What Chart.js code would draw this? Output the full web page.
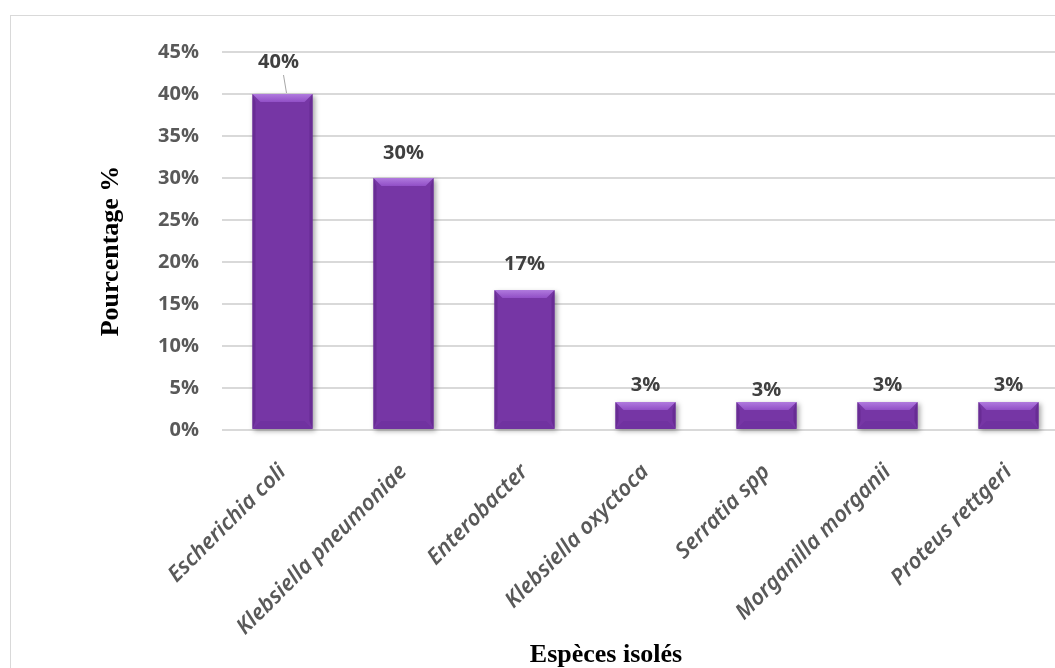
<!DOCTYPE html>
<html>
<head>
<meta charset="utf-8">
<script src="https://cdn.jsdelivr.net/npm/chart.js@4/dist/chart.umd.min.js"></script>
<style>
  html, body { margin: 0; padding: 0; background: #fff; overflow: hidden; }
  #wrap { position: absolute; left: 0; top: 0; width: 1069px; height: 690px; }
</style>
</head>
<body>
<div id="wrap"><canvas id="chart" width="1069" height="690"></canvas></div>
<script>
const categories = [
  "Escherichia coli",
  "Klebsiella pneumoniae",
  "Enterobacter",
  "Klebsiella oxyctoca",
  "Serratia spp",
  "Morganilla morganii",
  "Proteus rettgeri"
];
const percentages = [40, 30, 16.67, 3.33, 3.33, 3.33, 3.33];
const yMin = 0, yMax = 45, yStep = 5;
const yTitle = "Pourcentage %";
const xTitle = "Espèces isolés";

// how far above each bar its label sits (the first one has a leader line)
const labelLift = [32, 25, 26, 17, 12, 17, 17];

const $ = (id) => document.getElementById(id);

const frame = {
  id: "frame",
  beforeDraw(chart) {
    const ctx = chart.ctx;
    ctx.save();
    ctx.strokeStyle = "#d9d9d9";
    ctx.lineWidth = 1;
    ctx.strokeRect(10.5, 15.5, 2000, 2000);
    ctx.restore();
  }
};

const shadow = {
  id: "shadow",
  beforeDatasetsDraw(chart) {
    const ctx = chart.ctx;
    ctx.save();
    ctx.shadowColor = "rgba(0,0,0,0.35)";
    ctx.shadowBlur = 5;
    ctx.shadowOffsetX = 2;
    ctx.shadowOffsetY = 2;
  },
  afterDatasetsDraw(chart) {
    chart.ctx.restore();
  }
};

// bevel on each bar, drawn from the bar elements
const bevel = {
  id: "bevel",
  afterDatasetsDraw(chart) {
    const ctx = chart.ctx;
    chart.getDatasetMeta(0).data.forEach(bar => {
      const l = bar.x - bar.width / 2, r = bar.x + bar.width / 2;
      const t = bar.y, b = bar.base;
      const s = Math.min(8, (b - t) / 3);
      ctx.save();
      // top
      const g = ctx.createLinearGradient(0, t, 0, t + s);
      g.addColorStop(0, "#b07ade");
      g.addColorStop(1, "#914fc6");
      ctx.fillStyle = g;
      ctx.beginPath();
      ctx.moveTo(l, t); ctx.lineTo(r, t); ctx.lineTo(r - s, t + s); ctx.lineTo(l + s, t + s);
      ctx.closePath(); ctx.fill();
      // bottom
      ctx.fillStyle = "#7032a0";
      ctx.beginPath();
      ctx.moveTo(l, b); ctx.lineTo(r, b); ctx.lineTo(r - s, b - s); ctx.lineTo(l + s, b - s);
      ctx.closePath(); ctx.fill();
      // sides
      ctx.fillStyle = "#682c94";
      ctx.beginPath();
      ctx.moveTo(l, t); ctx.lineTo(l + 3, t + s); ctx.lineTo(l + 3, b - s); ctx.lineTo(l, b);
      ctx.closePath(); ctx.fill();
      ctx.beginPath();
      ctx.moveTo(r, t); ctx.lineTo(r - 3, t + s); ctx.lineTo(r - 3, b - s); ctx.lineTo(r, b);
      ctx.closePath(); ctx.fill();
      ctx.restore();
    });
  }
};

const valueLabels = {
  id: "valueLabels",
  afterDatasetsDraw(chart) {
    const ctx = chart.ctx;
    ctx.save();
    ctx.font = 'bold 20px "Open Sans"';
    ctx.fillStyle = "#404040";
    ctx.textAlign = "center";
    ctx.textBaseline = "middle";
    chart.getDatasetMeta(0).data.forEach((bar, i) => {
      const y = bar.y - labelLift[i];
      ctx.fillText(Math.round(percentages[i]) + "%", bar.x - (i === 0 ? 4 : 0), y);
      if (i === 0) {
        ctx.strokeStyle = "#a6a6a6";
        ctx.lineWidth = 1;
        ctx.beginPath();
        ctx.moveTo(bar.x + 1, y + 13);
        ctx.lineTo(bar.x + 4, bar.y - 1);
        ctx.stroke();
      }
    });
    ctx.restore();
  }
};

const axisTitles = {
  id: "axisTitles",
  afterDraw(chart) {
    const ctx = chart.ctx;
    ctx.save();
    ctx.fillStyle = "#000";
    ctx.font = 'bold 26px "Liberation Serif"';
    ctx.textAlign = "center";
    ctx.textBaseline = "middle";
    ctx.translate(111, 251);
    ctx.rotate(-Math.PI / 2);
    ctx.fillText(yTitle, 0, 0);
    ctx.restore();
    ctx.save();
    ctx.fillStyle = "#000";
    ctx.font = 'bold 26px "Liberation Serif"';
    ctx.textAlign = "center";
    ctx.textBaseline = "alphabetic";
    ctx.fillText(xTitle, 606, 662);
    ctx.restore();
  }
};

new Chart($("chart"), {
  type: "bar",
  data: {
    labels: categories,
    datasets: [{
      data: percentages,
      backgroundColor: "#7636a5",
      borderWidth: 0,
      barPercentage: 0.496,
      categoryPercentage: 1,
      clip: false
    }]
  },
  options: {
    responsive: false,
    animation: false,
    layout: { padding: { top: 52, left: 0, right: 0, bottom: 0 } },
    plugins: { legend: { display: false }, tooltip: { enabled: false } },
    scales: {
      x: {
        grid: { display: false, drawTicks: false },
        border: { display: false },
        ticks: {
          color: "#595959",
          font: { family: "Noto Sans", size: 22, weight: "600", style: "italic" },
          minRotation: 45,
          maxRotation: 45,
          padding: 29,
          autoSkip: false
        },
        afterFit(scale) { scale.height = 260; }
      },
      y: {
        min: yMin,
        max: yMax,
        grid: { color: "#d9d9d9", lineWidth: 2, drawTicks: false },
        border: { display: false },
        ticks: {
          stepSize: yStep,
          color: "#595959",
          font: { family: "Open Sans", size: 20, weight: "bold" },
          padding: 23,
          callback: v => v + "%"
        },
        afterFit(scale) { scale.width = 222; }
      }
    }
  },
  plugins: [frame, shadow, bevel, valueLabels, axisTitles]
});
</script>
</body>
</html>
